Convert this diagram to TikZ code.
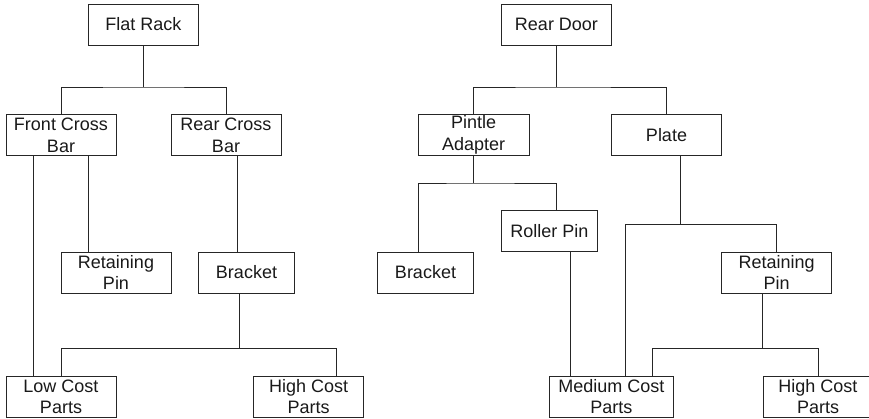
\documentclass[tikz,border=0pt]{standalone}
\usepackage{fontspec}
\setmainfont{Liberation Sans}
\begin{document}
\begin{tikzpicture}[x=1pt,y=-1pt,
  part/.style={draw=black!85,line width=1pt,text=black!90,inner sep=0pt,
    minimum height=41pt,minimum width=#1,align=center,
    font=\fontsize{18}{21.6}\selectfont},
  part/.default=110pt,
  link/.style={draw=black!85,line width=1pt}]
\useasboundingbox (0,0) rectangle (869,418);
\clip (0,0) rectangle (869,418);
% left tree
\node[part] (FR) at (143.5,24.5) {Flat Rack};
\node[part] (FCB) at (61,135) {Front Cross\\Bar};
\node[part] (RCB) at (226,135) {Rear Cross\\Bar};
\node[part] (RP1) at (116,272.5) {Retaining\\Pin};
\node[part=96.7pt] (BR1) at (246.5,272.5) {Bracket};
\node[part] (LCP) at (61,396.7) {Low Cost\\Parts};
\node[part] (HCP1) at (308.7,396.7) {High Cost\\Parts};
% right tree
\node[part] (RD) at (556.5,24.5) {Rear Door};
\node[part=110.7pt] (PA) at (473.7,135) {Pintle\\Adapter};
\node[part] (PL) at (666.5,135) {Plate};
\node[part=96.4pt] (BR2) at (425.5,272.5) {Bracket};
\node[part=96.4pt] (RoP) at (549.5,231.3) {Roller Pin};
\node[part] (RP2) at (776.7,272.5) {Retaining\\Pin};
\node[part=124pt] (MCP) at (611.3,396.7) {Medium Cost\\Parts};
\node[part] (HCP2) at (818,396.7) {High Cost\\Parts};
% junctions
\coordinate (j1) at (143.3,87);
\coordinate (j2) at (239.7,348.3);
\coordinate (j3) at (556.3,87);
\coordinate (j4) at (473.7,183);
\coordinate (j5) at (680.3,224.3);
\coordinate (j6) at (762.7,348.3);
% left connectors
\draw[link] (FR.south -| j1) -- (j1);
\draw[link] (FCB.north) |- (j1) -| (RCB.north);
\draw[link] (FCB.south -| 33,0) -- (LCP.north -| 33,0);
\draw[link] (FCB.south -| 88.3,0) -- (RP1.north -| 88.3,0);
\draw[link] (RCB.south -| 237,0) -- (BR1.north -| 237,0);
\draw[link] (BR1.south -| j2) -- (j2);
\draw[link] (LCP.north) |- (j2) -| (HCP1.north -| 336,0);
% right connectors
\draw[link] (RD.south -| j3) -- (j3);
\draw[link] (PA.north) |- (j3) -| (PL.north -| 666.3,0);
\draw[link] (PA.south -| j4) -- (j4);
\draw[link] (BR2.north -| 418.7,0) |- (j4) -| (RoP.north -| 556.3,0);
\draw[link] (PL.south -| j5) -- (j5);
\draw[link] (MCP.north -| 625.3,0) |- (j5) -| (RP2.north -| 776.3,0);
\draw[link] (RoP.south -| 570,0) -- (MCP.north -| 570,0);
\draw[link] (RP2.south -| j6) -- (j6);
\draw[link] (MCP.north -| 652.7,0) |- (j6) -| (HCP2.north);
\end{tikzpicture}
\end{document}
